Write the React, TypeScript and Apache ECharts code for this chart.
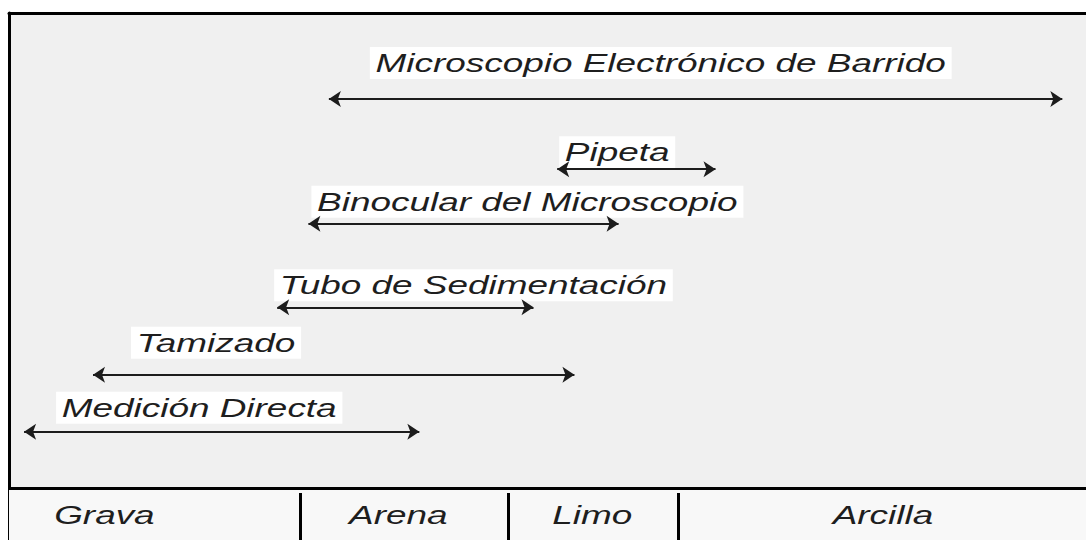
import React, { useEffect, useRef } from "react";
import * as echarts from "echarts";

// Measurement methods and the grain-size range (relative scale 0–100) each one covers
const methods = [
  "Microscopio Electrónico de Barrido",
  "Pipeta",
  "Binocular del Microscopio",
  "Tubo de Sedimentación",
  "Tamizado",
  "Medición Directa",
];
const rangeStart = [29.7, 50.9, 27.8, 24.9, 7.8, 1.4];
const rangeEnd = [97.8, 65.6, 56.6, 48.7, 52.5, 38.1];
const rowLevel = [81.9, 67.1, 55.6, 38.0, 23.8, 11.8];

// Grain-size classes and their boundaries on the same relative scale
const classes = ["Grava", "Arena", "Limo", "Arcilla"];
const classBounds = [0, 27.0, 46.4, 62.1, 100];
const classLevel = -5.7;

// Layout only (pixels): label offsets from the arrow start, and class-label shifts
const labelOffsets = [
  [41, -36],
  [2, -17],
  [3, -22],
  [-3, -22],
  [38, -32],
  [32, -24],
];
const classLabelShift = [-50, -6, -1, 1];

const FONT = 'italic 26px "Liberation Sans", Arial, sans-serif';
const STRETCH = 1.42;

export default function App() {
  const ref = useRef<HTMLDivElement>(null);

  useEffect(() => {
    if (!ref.current) return;
    const chart = echarts.init(ref.current, null, { renderer: "svg" });

    const separators = classBounds.slice(1, -1).map((b) => [
      { coord: [b, -1.1] },
      { coord: [b, -11] },
    ]);

    chart.setOption({
      animation: false,
      backgroundColor: "#ffffff",
      grid: {
        left: 9,
        right: 0,
        top: 13,
        bottom: 0,
        show: true,
        backgroundColor: "#f0f0f0",
        borderWidth: 0,
      },
      xAxis: {
        type: "value",
        min: 0,
        max: 100,
        position: "top",
        axisLine: { show: true, onZero: false, lineStyle: { color: "#000", width: 3 } },
        axisTick: { show: false },
        axisLabel: { show: false },
        splitLine: { show: false },
      },
      yAxis: {
        type: "value",
        min: -11,
        max: 100,
        axisLine: { show: true, onZero: false, lineStyle: { color: "#000", width: 3 } },
        axisTick: { show: false },
        axisLabel: { show: false },
        splitLine: { show: false },
      },
      series: [
        {
          type: "lines",
          coordinateSystem: "cartesian2d",
          silent: true,
          z: 5,
          symbol: ["arrow", "arrow"],
          symbolSize: 12,
          lineStyle: { color: "#1c1c1c", width: 2.2, opacity: 1, curveness: 0 },
          data: methods.map((m, i) => ({
            name: m,
            coords: [
              [rangeStart[i], rowLevel[i]],
              [rangeEnd[i], rowLevel[i]],
            ],
          })),
        },
        {
          type: "scatter",
          silent: true,
          symbolSize: 0,
          data: [],
          markArea: {
            silent: true,
            itemStyle: { color: "#f8f8f8" },
            data: [[{ coord: [0, 0] }, { coord: [100, -11] }]],
          },
          markLine: {
            silent: true,
            symbol: "none",
            label: { show: false },
            lineStyle: { color: "#000", width: 3, type: "solid" },
            data: [{ yAxis: 0 }, ...separators],
          },
        },
      ],
    });

    const toPx = (v: number[]) =>
      chart.convertToPixel({ xAxisIndex: 0, yAxisIndex: 0 }, v) as number[];

    const graphics: any[] = [];
    methods.forEach((m, i) => {
      const p = toPx([rangeStart[i], rowLevel[i]]);
      graphics.push({
        type: "text",
        x: p[0] + labelOffsets[i][0],
        y: p[1] + labelOffsets[i][1],
        scaleX: STRETCH,
        silent: true,
        z: 1,
        style: {
          text: m,
          font: FONT,
          fill: "#1e1e1e",
          textVerticalAlign: "middle",
          verticalAlign: "middle",
          backgroundColor: "#ffffff",
          padding: [3, 4],
        },
      });
    });
    classes.forEach((c, i) => {
      const mid = (classBounds[i] + classBounds[i + 1]) / 2;
      const p = toPx([mid, classLevel]);
      graphics.push({
        type: "text",
        x: p[0] + classLabelShift[i],
        y: p[1],
        scaleX: STRETCH,
        silent: true,
        z: 10,
        style: {
          text: c,
          font: FONT,
          fill: "#1e1e1e",
          textAlign: "center",
          align: "center",
          textVerticalAlign: "middle",
          verticalAlign: "middle",
        },
      });
    });
    chart.setOption({ graphic: graphics });

    return () => chart.dispose();
  }, []);

  return (
    <div
      ref={ref}
      style={{ position: "fixed", left: 0, top: 0, width: 1086, height: 540 }}
    />
  );
}
